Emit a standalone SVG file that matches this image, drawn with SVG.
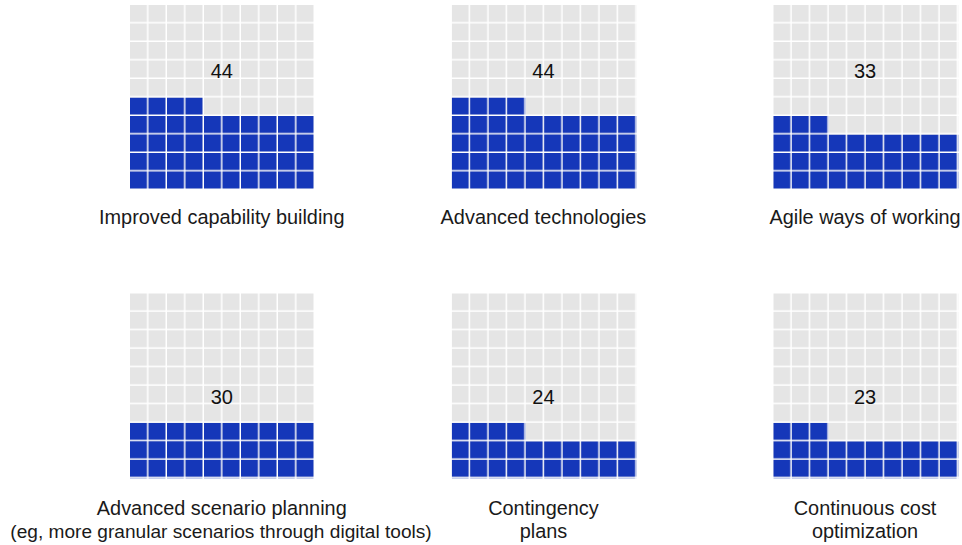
<svg xmlns="http://www.w3.org/2000/svg" width="962" height="545" viewBox="0 0 962 545">
<style>
.num{font-family:"Liberation Sans",Arial,sans-serif;font-size:20px;fill:#111;text-anchor:middle}
.lbl{font-family:"Liberation Sans",Arial,sans-serif;font-size:19.9px;fill:#1a1a1a;text-anchor:middle}
.sub{font-size:19.1px}
.bg{fill:url(#grey)}
.fg{fill:url(#blue)}
</style>
<defs>
<pattern id="grey" patternUnits="userSpaceOnUse" x="0" y="0" width="18.5" height="18.5"><rect x="0" y="0" width="17" height="17" fill="#e5e5e5"/></pattern>
<pattern id="blue" patternUnits="userSpaceOnUse" x="0" y="0" width="18.5" height="18.5"><rect x="0" y="0" width="17" height="17" fill="#1537b9"/></pattern>
</defs>
<g id="improved-capability-building" transform="translate(130,5)">
<rect class="bg" x="0" y="0" width="185" height="185"/>
<rect class="fg" x="0" y="111" width="185" height="74"/>
<rect class="fg" x="0" y="92.5" width="74" height="18.5"/>
<text class="num" x="91.75" y="73">44</text>
<text class="lbl" x="91.75" y="219">Improved capability building</text>
</g>
<g id="advanced-technologies" transform="translate(451.7,5)">
<rect class="bg" x="0" y="0" width="185" height="185"/>
<rect class="fg" x="0" y="111" width="185" height="74"/>
<rect class="fg" x="0" y="92.5" width="74" height="18.5"/>
<text class="num" x="91.75" y="73">44</text>
<text class="lbl" x="91.75" y="219">Advanced technologies</text>
</g>
<g id="agile-ways-of-working" transform="translate(773.3,5)">
<rect class="bg" x="0" y="0" width="185" height="185"/>
<rect class="fg" x="0" y="129.5" width="185" height="55.5"/>
<rect class="fg" x="0" y="111" width="55.5" height="18.5"/>
<text class="num" x="91.75" y="73">33</text>
<text class="lbl" x="91.75" y="219">Agile ways of working</text>
</g>
<g id="advanced-scenario-planning" transform="translate(130,293.3)">
<rect class="bg" x="0" y="0" width="185" height="185"/>
<rect class="fg" x="0" y="129.5" width="185" height="55.5"/>
<text class="num" x="91.75" y="110.7">30</text>
<text class="lbl" x="91.75" y="221.5">Advanced scenario planning</text>
<text class="lbl sub" x="91" y="244.5">(eg, more granular scenarios through digital tools)</text>
</g>
<g id="contingency-plans" transform="translate(451.7,293.3)">
<rect class="bg" x="0" y="0" width="185" height="185"/>
<rect class="fg" x="0" y="148" width="185" height="37"/>
<rect class="fg" x="0" y="129.5" width="74" height="18.5"/>
<text class="num" x="91.75" y="110.7">24</text>
<text class="lbl" x="91.75" y="221.5">Contingency</text>
<text class="lbl" x="91.75" y="244.5">plans</text>
</g>
<g id="continuous-cost-optimization" transform="translate(773.3,293.3)">
<rect class="bg" x="0" y="0" width="185" height="185"/>
<rect class="fg" x="0" y="148" width="185" height="37"/>
<rect class="fg" x="0" y="129.5" width="55.5" height="18.5"/>
<text class="num" x="91.75" y="110.7">23</text>
<text class="lbl" x="91.75" y="221.5">Continuous cost</text>
<text class="lbl" x="91.75" y="244.5">optimization</text>
</g>
<g id="connectors"/>
</svg>
